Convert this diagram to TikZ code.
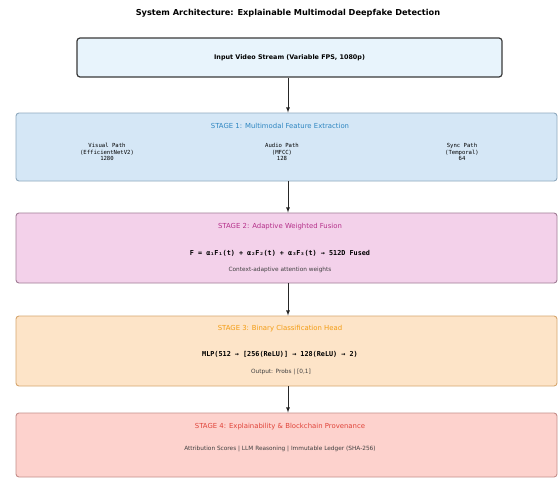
\documentclass[tikz,border=0pt]{standalone}
\usepackage{fontspec}
\setmainfont{DejaVu Sans}
\setmonofont{DejaVu Sans Mono}
\usetikzlibrary{positioning}

\definecolor{inputfill}{HTML}{E8F4FC}
\definecolor{inputdraw}{HTML}{3A3A3A}
\definecolor{onefill}{HTML}{D5E7F6}
\definecolor{onedraw}{HTML}{8FA9BE}
\definecolor{onetext}{HTML}{2E86C1}
\definecolor{twofill}{HTML}{F3D1EA}
\definecolor{twodraw}{HTML}{A07C95}
\definecolor{twotext}{HTML}{B5308A}
\definecolor{threefill}{HTML}{FDE4C8}
\definecolor{threedraw}{HTML}{D6A66E}
\definecolor{threetext}{HTML}{F39C12}
\definecolor{fourfill}{HTML}{FDD2CD}
\definecolor{fourdraw}{HTML}{C48E8A}
\definecolor{fourtext}{HTML}{E0443A}

\tikzset{
    stagebox/.style={draw, line width=0.9pt, rounded corners=3pt,
        minimum width=541pt, inner sep=0pt},
    stagetitle/.style={font=\fontsize{6.9}{8}\selectfont},
    pathlabel/.style={font=\fontsize{5.6}{6.8}\selectfont\ttfamily, align=center},
    formula/.style={font=\fontsize{6.8}{8}\selectfont\ttfamily\bfseries},
    notelabel/.style={font=\fontsize{5.8}{7}\selectfont, text=black!75},
    flow/.style={-latex, line width=0.8pt, black!85},
}

\begin{document}
\begin{tikzpicture}[x=1pt, y=-1pt]

% coordinates
\useasboundingbox (0, 0) rectangle (560, 479);
\fill [white] (0, 0) rectangle (560, 479);

% title
\node (title) [font=\fontsize{8.2}{9}\selectfont\bfseries] at (288, 13)
    {System Architecture: Explainable Multimodal Deepfake Detection};

% boxes
\node (input) [stagebox, fill=inputfill, draw=inputdraw, line width=1.2pt,
    minimum width=425pt, minimum height=39pt] at (289.5, 57.5) {};
\node [font=\fontsize{6.4}{7}\selectfont\bfseries] at (input.center)
    {Input Video Stream (Variable FPS, 1080p)};

\node (one) [stagebox, fill=onefill, draw=onedraw, minimum height=68pt] at (286.5, 147) {};
\node (two) [stagebox, fill=twofill, draw=twodraw, minimum height=70pt] at (286.5, 248) {};
\node (three) [stagebox, fill=threefill, draw=threedraw, minimum height=70pt] at (286.5, 351) {};
\node (four) [stagebox, fill=fourfill, draw=fourdraw, minimum height=64pt] at (286.5, 445) {};

% stage 1
\node (onetitle) [stagetitle, text=onetext] at (280, 126) {STAGE 1: Multimodal Feature Extraction};
\node (visual) [pathlabel] at (107, 152) {Visual Path\\(EfficientNetV2)\\1280};
\node (audio) [pathlabel] at (282, 152) {Audio Path\\(MFCC)\\128};
\node (sync) [pathlabel] at (462, 152) {Sync Path\\(Temporal)\\64};

% stage 2
\node (twotitle) [stagetitle, text=twotext] at (280, 227) {STAGE 2: Adaptive Weighted Fusion};
\node (fusion) [formula] at (280, 253)
    {F = α₁F₁(t) + α₂F₂(t) + α₃F₃(t) → 512D Fused};
\node (weights) [notelabel] at (280, 270) {Context-adaptive attention weights};

% stage 3
\node (threetitle) [stagetitle, text=threetext] at (280, 329) {STAGE 3: Binary Classification Head};
\node (mlp) [formula] at (280, 354)
    {MLP(512 → [256(ReLU)] → 128(ReLU) → 2)};
\node (output) [notelabel] at (281, 372) {Output: Probs | [0,1]};

% stage 4
\node (fourtitle) [stagetitle, text=fourtext] at (280, 427)
    {STAGE 4: Explainability \& Blockchain Provenance};
\node (ledger) [notelabel] at (280, 449)
    {Attribution Scores | LLM Reasoning | Immutable Ledger (SHA-256)};

% arrows
\begin{scope}[flow]
    \draw (input.south -| 288, 0) -- (one.north -| 288, 0);
    \draw (one.south -| 288, 0) -- (two.north -| 288, 0);
    \draw (two.south -| 288, 0) -- (three.north -| 288, 0);
    \draw (three.south -| 288, 0) -- (four.north -| 288, 0);
\end{scope}

\end{tikzpicture}
\end{document}
